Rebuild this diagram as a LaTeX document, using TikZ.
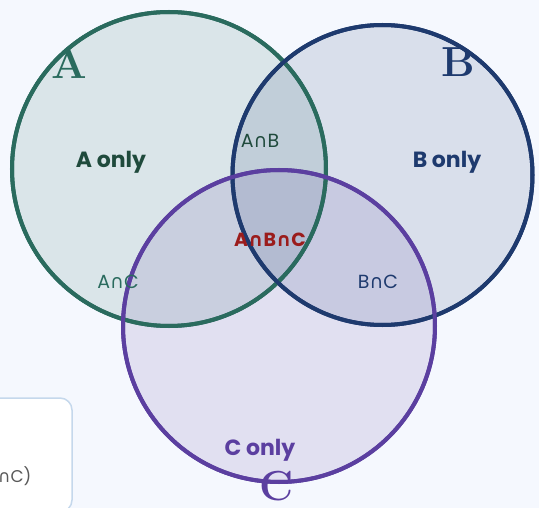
\documentclass[tikz,border=0pt]{standalone}
\usepackage{fontspec}
\newfontfamily\pop{Poppins}
\newfontfamily\dejavu{DejaVu Sans}
% Poppins has no intersection sign, so it comes from DejaVu Sans
\newcommand{\capsym}{{\dejavu ∩}}
\definecolor{bgc}{HTML}{F5F8FE}
\definecolor{setA}{HTML}{2A6B5E}
\definecolor{setB}{HTML}{1E3A6E}
\definecolor{setC}{HTML}{5B3FA0}
\definecolor{core}{HTML}{9B1C1C}
\definecolor{txtA}{HTML}{1F4A3C}
\definecolor{boxline}{HTML}{C5D8EC}
\tikzset{
  setring/.style={line width=4pt, fill opacity=0.13, draw opacity=1},
  onlylabel/.style={font=\pop\bfseries\fontsize{22}{24}\selectfont},
  pairlabel/.style={font=\pop\fontsize{19}{21}\selectfont},
  setname/.style={font=\bfseries\fontsize{42}{44}\selectfont},
}
\begin{document}
\begin{tikzpicture}[x=1pt,y=-1pt]
  \fill[bgc] (0,0) rectangle (539,508);
  \useasboundingbox (0,0) rectangle (539,508);

  % legend card, partly off the left edge
  \draw[boxline, line width=1.5pt, fill=white, rounded corners=12pt] (-60,398) rectangle (72,512);
  \node[anchor=east, font=\pop\fontsize{17}{19}\selectfont, text=black!65] (legend) at (35,476) {(A\capsym B\capsym C)};

  % the three sets
  \path[setring, draw=setA, fill=setA] (169,169) circle (157);
  \path[setring, draw=setB, fill=setB] (382.5,175) circle (150);
  \path[setring, draw=setC, fill=setC] (279,326) circle (156);
  % rings redrawn on top so every outline stays crisp
  \draw[setA, line width=4pt] (169,169) circle (157);
  \draw[setB, line width=4pt] (382.5,175) circle (150);
  \draw[setC, line width=4pt] (279,326) circle (156);

  % set names
  \node[setname, text=setA] (nameA) at (69,64) {A};
  \node[setname, text=setB] (nameB) at (458,62) {B};
  \node[setname, text=setC] (nameC) at (277,486) {C};

  % region labels
  \node[onlylabel, text=txtA] (onlyA) at (111,162) {A only};
  \node[onlylabel, text=setB] (onlyB) at (447,162) {B only};
  \node[onlylabel, text=setC] (onlyC) at (260,450) {C only};
  \node[pairlabel, text=txtA] (ab) at (260,141) {A\capsym B};
  \node[pairlabel, text=setA] (ac) at (118,282) {A\capsym C};
  \node[pairlabel, text=setB] (bc) at (378,282) {B\capsym C};
  \node[pairlabel, font=\pop\bfseries\fontsize{19}{21}\selectfont, text=core] (abc) at (270,240) {A\capsym B\capsym C};
\end{tikzpicture}
\end{document}
